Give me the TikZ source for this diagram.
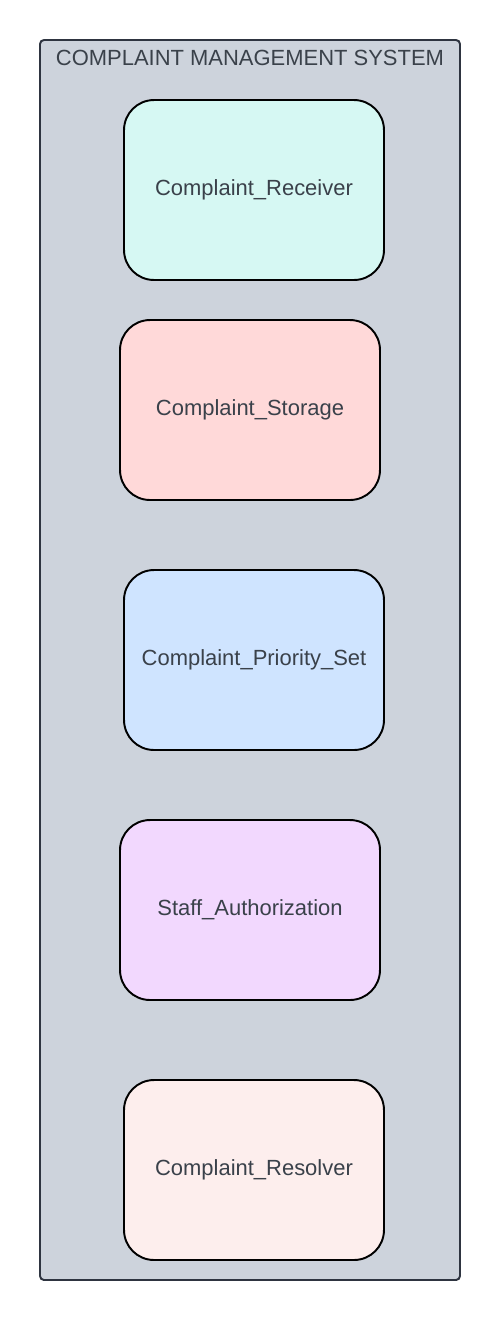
\documentclass[tikz,border=0pt]{standalone}
\usepackage{fontspec}
\setmainfont{Liberation Sans}
\usepackage{tikz}

\definecolor{sysfill}{HTML}{CDD3DC}
\definecolor{sysline}{HTML}{2E3440}
\definecolor{labeltext}{HTML}{3A414A}
\definecolor{receiverfill}{HTML}{D6F8F3}
\definecolor{storagefill}{HTML}{FFD9D9}
\definecolor{priorityfill}{HTML}{CFE4FF}
\definecolor{stafffill}{HTML}{F2D8FE}
\definecolor{resolverfill}{HTML}{FDEEED}

\begin{document}
\begin{tikzpicture}[x = 0.02cm, y = -0.02cm,
	module/.style = {draw = black, line width = 1.1pt, rounded corners = 0.6cm,
		minimum width = 5.2cm, minimum height = 3.6cm, text = labeltext,
		font = \fontsize{12.5pt}{15pt}\selectfont}]
\useasboundingbox (0, 0) rectangle (500, 1320);

% system boundary
\filldraw [fill = sysfill, draw = sysline, line width = 1.1pt, rounded corners = 0.08cm]
	(40, 40) rectangle (460, 1280);
\node [text = labeltext, font = \fontsize{12.5pt}{15pt}\selectfont] (title) at (250, 58) {COMPLAINT MANAGEMENT SYSTEM};

% modules
\node [module, fill = receiverfill] (receiver) at (254, 190) {Complaint\_Receiver};
\node [module, fill = storagefill] (storage) at (250, 410) {Complaint\_Storage};
\node [module, fill = priorityfill] (priority) at (254, 660) {Complaint\_Priority\_Set};
\node [module, fill = stafffill] (staff) at (250, 910) {Staff\_Authorization};
\node [module, fill = resolverfill] (resolver) at (254, 1170) {Complaint\_Resolver};

\end{tikzpicture}
\end{document}
